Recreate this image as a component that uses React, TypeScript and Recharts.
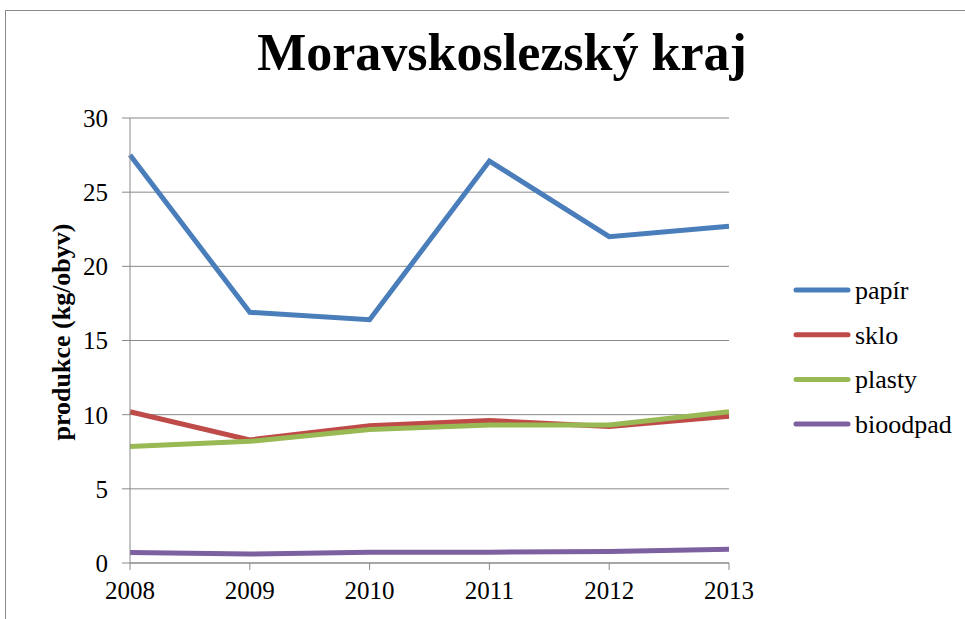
import React from 'react';
import { LineChart, Line, XAxis, YAxis, CartesianGrid } from 'recharts';

const years = ['2008', '2009', '2010', '2011', '2012', '2013'];
const papir = [27.5, 16.9, 16.4, 27.1, 22.0, 22.7];
const sklo = [10.2, 8.3, 9.25, 9.6, 9.2, 9.9];
const plasty = [7.85, 8.2, 9.0, 9.3, 9.3, 10.2];
const bioodpad = [0.7, 0.6, 0.72, 0.73, 0.78, 0.93];
const yTicks = [0, 5, 10, 15, 20, 25, 30];

const series = [
  { key: 'papir', name: 'papír', color: '#4A7EBB' },
  { key: 'sklo', name: 'sklo', color: '#BE4B48' },
  { key: 'plasty', name: 'plasty', color: '#98B954' },
  { key: 'bioodpad', name: 'bioodpad', color: '#7D60A0' },
];

const data = years.map((year, i) => ({
  year,
  papir: papir[i],
  sklo: sklo[i],
  plasty: plasty[i],
  bioodpad: bioodpad[i],
}));

const FONT = 'Liberation Serif';
const GRID = '#898989';

// rotated axis title, placed by hand like in the original sheet
const YLabel = () => (
  <text
    x={70}
    y={332}
    transform="rotate(-90, 70, 332)"
    textAnchor="middle"
    fontFamily={FONT}
    fontSize={26}
    fontWeight="bold"
    fill="#000"
  >
    produkce (kg/obyv)
  </text>
);

export default function App() {
  return (
    <div style={{ position: 'absolute', left: 0, top: 0, width: 965, height: 619, overflow: 'hidden', background: '#fff' }}>
      <div
        style={{
          position: 'absolute',
          left: 5,
          top: 10,
          width: 975,
          height: 630,
          border: `1px solid ${GRID}`,
          boxSizing: 'border-box',
        }}
      />
      <svg width={965} height={90} style={{ position: 'absolute', left: 0, top: 0 }}>
        <text x={502} y={70} textAnchor="middle" fontFamily={FONT} fontWeight="bold" fontSize={52} fill="#000">
          Moravskoslezský kraj
        </text>
      </svg>
      <div style={{ position: 'absolute', left: 0, top: 0 }}>
        <LineChart width={965} height={619} data={data} margin={{ top: 118, right: 236, left: 0, bottom: 0 }}>
          <CartesianGrid vertical={false} stroke={GRID} strokeWidth={1} />
          <XAxis
            dataKey="year"
            height={56}
            stroke={GRID}
            tickSize={7}
            tickMargin={11}
            tick={{ fill: '#000', fontFamily: FONT, fontSize: 25 }}
            interval={0}
          />
          <YAxis
            width={130}
            domain={[0, 30]}
            ticks={yTicks}
            stroke={GRID}
            tickSize={8}
            tickMargin={14}
            tick={{ fill: '#000', fontFamily: FONT, fontSize: 25 }}
            label={<YLabel />}
          />
          {series.map((s) => (
            <Line
              key={s.key}
              type="linear"
              dataKey={s.key}
              name={s.name}
              stroke={s.color}
              strokeWidth={5}
              dot={false}
              activeDot={false}
              isAnimationActive={false}
            />
          ))}
        </LineChart>
      </div>
      <svg width={175} height={190} style={{ position: 'absolute', left: 790, top: 268 }}>
        {series.map((s, i) => (
          <g key={s.key} transform={`translate(0, ${22 + i * 44.7})`}>
            <line x1={6} y1={0} x2={58} y2={0} stroke={s.color} strokeWidth={5} strokeLinecap="round" />
            <text x={65} y={9} fontFamily={FONT} fontSize={26} fill="#000">
              {s.name}
            </text>
          </g>
        ))}
      </svg>
    </div>
  );
}
